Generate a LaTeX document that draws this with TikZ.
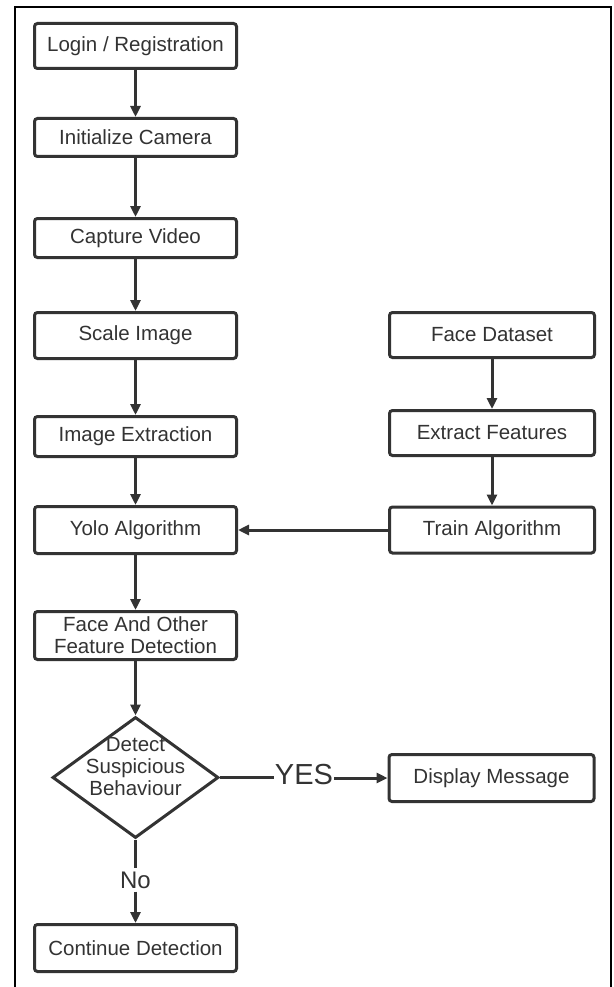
\documentclass[tikz,border=0pt]{standalone}
\usepackage{fontspec}
\setmainfont{Liberation Sans}
\usetikzlibrary{
	arrows.meta,
	shapes.geometric,
}
\definecolor{ink}{HTML}{333333}

\begin{document}
\begin{tikzpicture}[x=1pt, y=-1pt,
	every node/.style={color=ink, font=\fontsize{20.5}{22}\selectfont},
	box/.style={draw=ink, fill=white, line width=3pt, rounded corners=3pt, minimum width=202pt, align=center, inner sep=0pt},
	decision/.style={draw=ink, line width=3pt, diamond, minimum width=166pt, minimum height=121pt, inner sep=0pt},
	link/.style={draw=ink, line width=3pt},
	flow/.style={link, -{Triangle[length=11pt, width=10pt]}},
	]

	\useasboundingbox (0,0) rectangle (613,987);

	% 外框
	\draw[line width=2pt, black] (15,990) -- (15,7) -- (611,7) -- (611,990);

	% 左列
	\node[box, minimum height=45pt] (login) at (135.5,46) {Login / Registration};
	\node[box, minimum height=38pt] (camera) at (135.5,137.5) {Initialize Camera};
	\node[box, minimum height=39pt] (capture) at (135.5,238) {Capture Video};
	\node[box, minimum height=46pt] (scale) at (135.5,335.5) {Scale Image};
	\node[box, minimum height=40pt] (extract) at (135.5,436.5) {Image Extraction};
	\node[box, minimum height=47pt] (yolo) at (135.5,530) {Yolo Algorithm};
	\node[box, minimum height=48pt] (detection) at (135.5,635.5) {Face And Other\\Feature Detection};

	% 判断
	\node[decision] (suspect) at (135.5,777.5) {};
	\node[align=center] (suspecttxt) at (135.5,767) {Detect\\Suspicious\\Behaviour};
	\node[box, minimum height=47pt] (continue) at (135.5,948) {Continue Detection};

	% 右列
	\node[box, minimum width=205pt, minimum height=45pt] (dataset) at (492,335) {Face Dataset};
	\node[box, minimum width=205pt, minimum height=45pt] (features) at (492,433) {Extract Features};
	\node[box, minimum width=205pt, minimum height=46pt] (train) at (492,530) {Train Algorithm};
	\node[box, minimum width=205pt, minimum height=47pt] (display) at (491.5,778) {Display Message};

	% 标签
	\node[font=\fontsize{29}{29}\selectfont, inner sep=1pt] (yes) at (304,775) {YES};
	\node[font=\fontsize{24}{24}\selectfont, inner sep=3pt] (no) at (135.5,880) {No};

	% 箭头
	\foreach \a/\b in {login/camera, camera/capture, capture/scale, scale/extract, extract/yolo, yolo/detection, detection/suspect, dataset/features, features/train} {
			\draw[flow] (\a) -- (\b);
		}
	\draw[flow] (train) -- (yolo);
	\draw[link] (suspect.east) -- (suspect.east -| yes.west);
	\draw[flow] (yes.east |- display.west) -- (display.west);
	\draw[link] (suspect) -- (no);
	\draw[flow] (no) -- (continue);

\end{tikzpicture}
\end{document}
